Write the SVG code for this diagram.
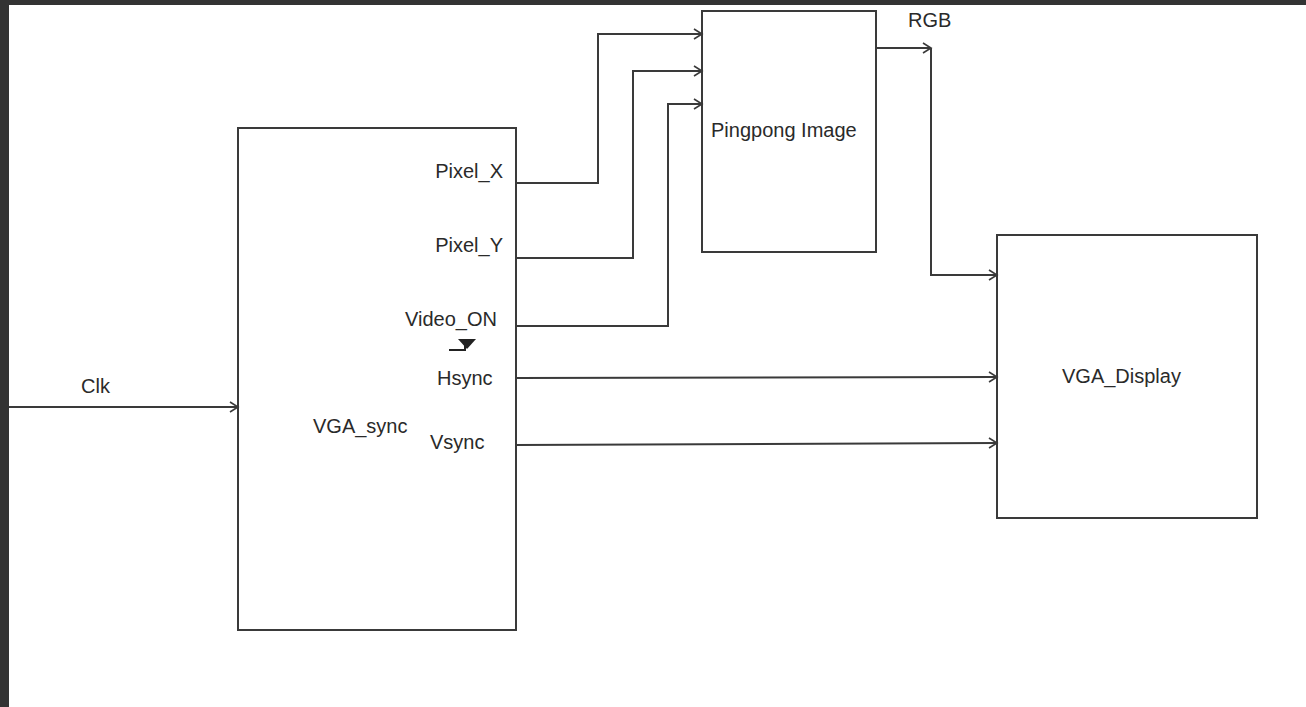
<svg xmlns="http://www.w3.org/2000/svg" width="1306" height="707" viewBox="0 0 1306 707">
<style>
.box{fill:#fff;stroke:#3a3a3a;stroke-width:2}
.wire{fill:none;stroke:#3a3a3a;stroke-width:2}
.lbl{font-family:"Liberation Sans",Arial,sans-serif;font-size:20px;fill:#2a2a2a}
</style>
<defs>
<marker id="arr" markerUnits="userSpaceOnUse" markerWidth="12" markerHeight="14" refX="9" refY="6" orient="auto">
<path d="M1,1 L9,6 L1,11" fill="none" stroke="#3a3a3a" stroke-width="1.6"/>
</marker>
</defs>
<rect x="0" y="0" width="1306" height="707" fill="#fff"/>
<rect x="0" y="0" width="1306" height="5" fill="#333"/>
<rect x="0" y="0" width="9" height="707" fill="#333"/>

<g id="vga_sync">
<rect class="box" x="238" y="128" width="278" height="502"/>
<text class="lbl" x="313" y="433">VGA_sync</text>
<text class="lbl" x="503" y="178" text-anchor="end">Pixel_X</text>
<text class="lbl" x="503" y="252" text-anchor="end">Pixel_Y</text>
<text class="lbl" x="497" y="326" text-anchor="end">Video_ON</text>
<text class="lbl" x="437" y="385">Hsync</text>
<text class="lbl" x="430" y="449">Vsync</text>
<path d="M449,350 H465 V341" fill="none" stroke="#222" stroke-width="2"/>
<polygon points="458,339 476,339 467,349" fill="#222"/>
</g>

<g id="pingpong">
<rect class="box" x="702" y="11" width="174" height="241"/>
<text class="lbl" x="711" y="137">Pingpong Image</text>
</g>

<g id="vga_display">
<rect class="box" x="997" y="235" width="260" height="283"/>
<text class="lbl" x="1062" y="383">VGA_Display</text>
</g>

<g id="connectors">
<path class="wire" d="M9,407 H238" marker-end="url(#arr)"/>
<text class="lbl" x="81" y="393">Clk</text>
<path class="wire" d="M516,183 H598 V34 H702" marker-end="url(#arr)"/>
<path class="wire" d="M516,258 H633 V71 H702" marker-end="url(#arr)"/>
<path class="wire" d="M516,326 H668 V104 H702" marker-end="url(#arr)"/>
<path class="wire" d="M876,48 H931" marker-end="url(#arr)"/>
<path class="wire" d="M931,48 V275 H997" marker-end="url(#arr)"/>
<text class="lbl" x="908" y="27">RGB</text>
<path class="wire" d="M516,378 L997,377" marker-end="url(#arr)"/>
<path class="wire" d="M516,445 L997,443" marker-end="url(#arr)"/>
</g>
</svg>
